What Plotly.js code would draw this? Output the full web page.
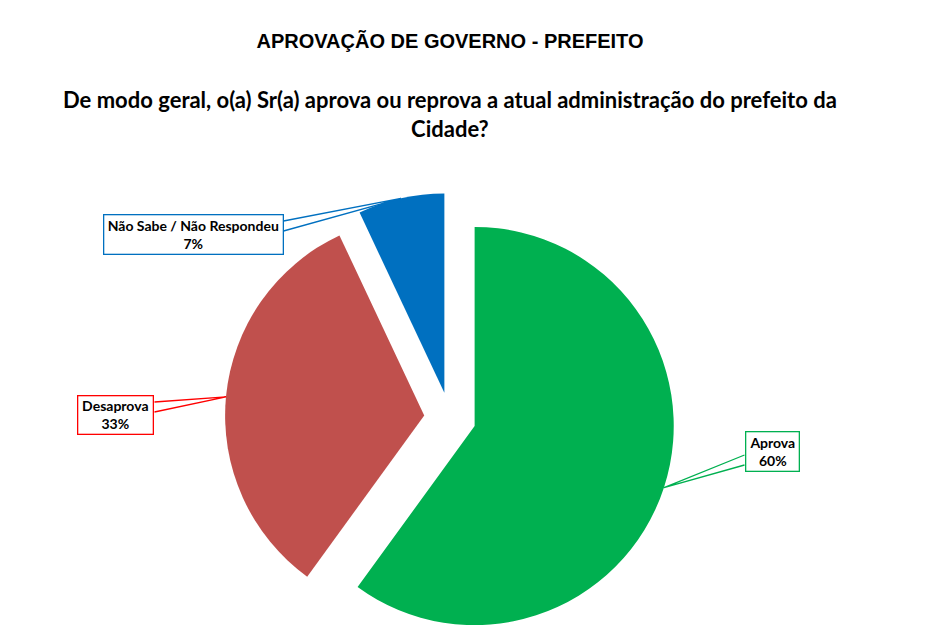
<!DOCTYPE html>
<html>
<head>
<meta charset="utf-8">
<script src="https://cdn.plot.ly/plotly-3.0.1.min.js"></script>
<style>
  html, body { margin: 0; padding: 0; background: #ffffff; }
  #chart { width: 926px; height: 644px; }
</style>
</head>
<body>
<div id="chart"></div>
<script>
// data
const labels = ["Aprova", "Desaprova", "Não Sabe / Não Respondeu"];
const values = [60, 33, 7];
const sliceColors = ["#00B050", "#C0504D", "#0070C0"];
const calloutColors = ["#00B050", "#FF0000", "#0070C0"];

const W = 926, H = 644;
const PULL = 0.13;
const LABEL_FONT = "Lato, 'Open Sans', sans-serif";

// where the pie sits, in pixels
const pieBox = { x0: 225, x1: 675, y0: 193, y1: 643 };

// callout boxes: centre, size, and where the leader leaves the box
const boxes = [
  { cx: 772, cy: 451, w: 55, h: 41, side: "left", dy: [4, 14] },
  { cx: 116, cy: 415, w: 77, h: 40, side: "right", dy: [-13, -3] },
  { cx: 193, cy: 235, w: 181, h: 41, side: "right", dy: [-14, -4] },
];

const px = (x) => x / W;
const py = (y) => 1 - y / H;

/* --------------------------- callouts --------------------------- */

const total = values.reduce((a, b) => a + b, 0);
const pcx = (pieBox.x0 + pieBox.x1) / 2;
const pcy = (pieBox.y0 + pieBox.y1) / 2;
const outer = Math.min(pieBox.x1 - pieBox.x0, pieBox.y1 - pieBox.y0) / 2; // r * (1 + pull)

const annotations = [];
const shapes = [];
let cum = 0;
values.forEach((v, i) => {
  const mid = ((cum + v / 2) / total) * 2 * Math.PI;
  cum += v;
  const tipX = pcx + outer * Math.sin(mid);
  const tipY = pcy - outer * Math.cos(mid);
  const b = boxes[i];
  const ex = b.side === "left" ? b.cx - b.w / 2 : b.cx + b.w / 2;
  const y1 = b.cy + b.dy[0];
  const y2 = b.cy + b.dy[1];
  shapes.push({
    type: "path",
    xref: "paper",
    yref: "paper",
    path: `M ${px(ex)} ${py(y1)} L ${px(tipX)} ${py(tipY)} L ${px(ex)} ${py(y2)}`,
    line: { color: calloutColors[i], width: 1.3 },
  });
  annotations.push({
    xref: "paper",
    yref: "paper",
    x: px(b.cx),
    y: py(b.cy),
    xanchor: "center",
    yanchor: "middle",
    showarrow: false,
    text: `${labels[i]}<br>${v}%`,
    width: b.w - 3,
    height: b.h - 3,
    borderpad: 0,
    bgcolor: "#ffffff",
    bordercolor: calloutColors[i],
    borderwidth: 1.3,
    font: { family: LABEL_FONT, size: 14, color: "#000000", weight: 700 },
  });
});

annotations.push({
  xref: "paper",
  yref: "paper",
  x: px(450),
  y: py(114),
  xanchor: "center",
  yanchor: "middle",
  showarrow: false,
  text: "De modo geral, o(a) Sr(a) aprova ou reprova a atual administração do prefeito da<br>Cidade?",
  font: { family: LABEL_FONT, size: 22, color: "#000000", weight: 700 },
});

/* ----------------------------- chart ----------------------------- */

const trace = {
  type: "pie",
  labels: labels,
  values: values,
  sort: false,
  direction: "clockwise",
  rotation: 0,
  pull: values.map(() => PULL),
  textinfo: "none",
  hoverinfo: "label+percent",
  marker: { colors: sliceColors, line: { width: 0 } },
  domain: { x: [px(pieBox.x0), px(pieBox.x1)], y: [py(pieBox.y1), py(pieBox.y0)] },
};

const layout = {
  width: W,
  height: H,
  paper_bgcolor: "#ffffff",
  margin: { l: 0, r: 0, t: 0, b: 0 },
  showlegend: false,
  title: {
    text: "APROVAÇÃO DE GOVERNO - PREFEITO",
    x: px(450),
    xanchor: "center",
    y: py(41),
    yanchor: "middle",
    font: { family: "'Liberation Sans', Arial, sans-serif", size: 20, color: "#000000", weight: 700 },
  },
  shapes: shapes,
  annotations: annotations,
};

Plotly.newPlot("chart", [trace], layout, { displayModeBar: false, staticPlot: true });
</script>
</body>
</html>
